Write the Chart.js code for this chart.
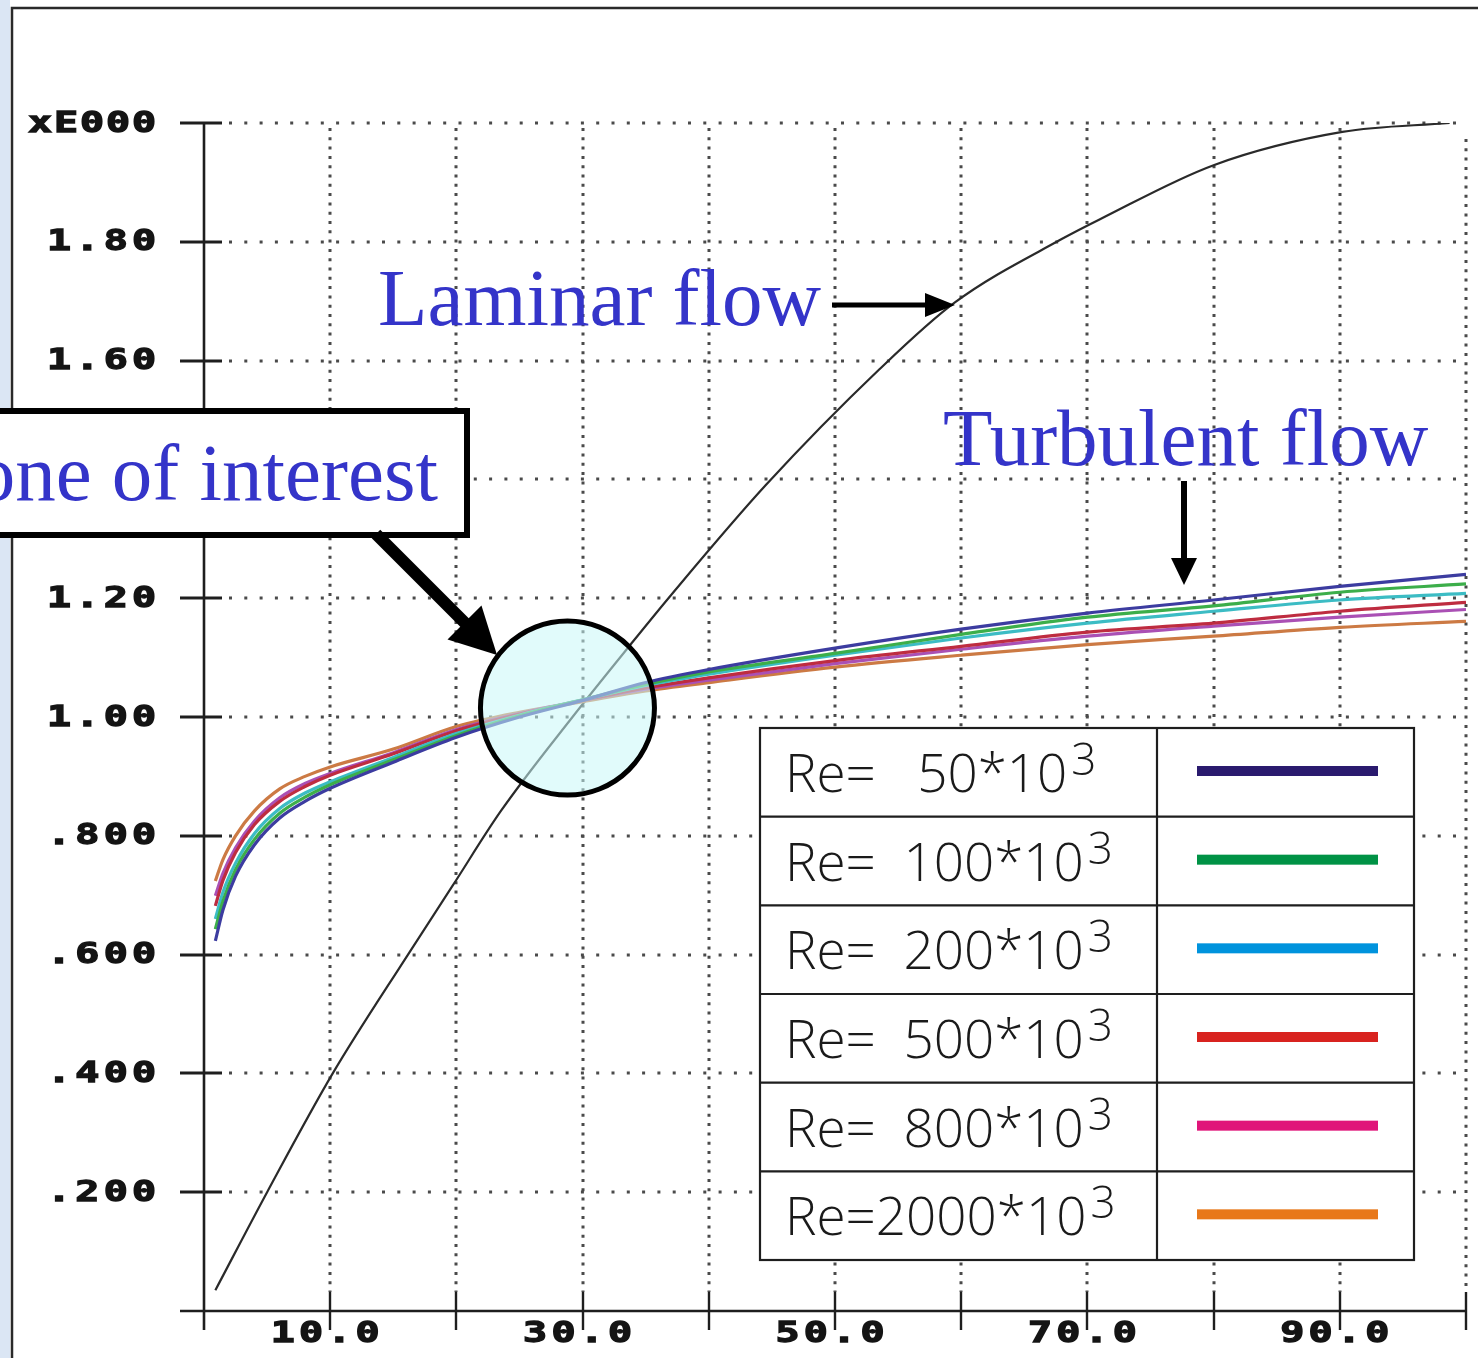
<!DOCTYPE html>
<html>
<head>
<meta charset="utf-8">
<script src="https://cdn.jsdelivr.net/npm/chart.js@4.4.1/dist/chart.umd.min.js"></script>
<style>
  html, body { margin: 0; padding: 0; background: #fff; overflow: hidden; }
  canvas { display: block; }
</style>
</head>
<body>
<canvas id="chart" width="1478" height="1358"></canvas>
<script>
// Turbulent curves: one series per Reynolds number
const turbX   = [0.9, 1.5, 2.5, 4, 6, 8, 10, 15, 20, 25, 30, 35, 40, 50, 60, 70, 80, 90, 100];
const re50    = [0.623, 0.675, 0.732, 0.785, 0.830, 0.858, 0.880, 0.924, 0.966, 1.000, 1.028, 1.058, 1.080, 1.116, 1.148, 1.175, 1.197, 1.220, 1.240];
const re100   = [0.643, 0.690, 0.743, 0.794, 0.838, 0.865, 0.886, 0.928, 0.969, 1.002, 1.029, 1.055, 1.076, 1.107, 1.139, 1.168, 1.187, 1.210, 1.224];
const re200   = [0.660, 0.705, 0.754, 0.804, 0.846, 0.872, 0.891, 0.932, 0.972, 1.003, 1.029, 1.053, 1.072, 1.104, 1.133, 1.158, 1.178, 1.197, 1.208];
const re500   = [0.682, 0.725, 0.772, 0.819, 0.858, 0.883, 0.902, 0.938, 0.977, 1.005, 1.028, 1.049, 1.066, 1.095, 1.119, 1.143, 1.158, 1.178, 1.193];
const re800   = [0.699, 0.737, 0.780, 0.825, 0.864, 0.888, 0.905, 0.940, 0.979, 1.006, 1.028, 1.047, 1.062, 1.090, 1.114, 1.136, 1.153, 1.168, 1.181];
const re2000  = [0.724, 0.760, 0.800, 0.842, 0.879, 0.900, 0.916, 0.946, 0.984, 1.008, 1.026, 1.044, 1.058, 1.084, 1.104, 1.122, 1.136, 1.151, 1.161];

// Laminar curve
const laminarX = [0.9, 5, 10.2, 16.1, 19.7, 23.5, 29.2, 33.8, 37, 44.5, 53.5, 59.5, 68, 71, 80, 90.2, 98.7];
const laminarY = [0.035, 0.2, 0.4, 0.598, 0.716, 0.841, 1.0, 1.122, 1.205, 1.39, 1.585, 1.698, 1.805, 1.838, 1.929, 1.985, 2.0];

// Legend rows
const reLabels     = ['Re=   50*10', 'Re=  100*10', 'Re=  200*10', 'Re=  500*10', 'Re=  800*10', 'Re=2000*10'];
const reExponent   = '3';
const curveColors  = ['#3c3ca0', '#3cae4a', '#3cbcc4', '#be2c40', '#aa50b4', '#cc7a44'];
const legendColors = ['#2a1a6e', '#009245', '#0093dd', '#d8231f', '#e0157a', '#e8781a'];

// Axis ticks and their labels
const yTickValues = [0.2, 0.4, 0.6, 0.8, 1.0, 1.2, 1.4, 1.6, 1.8, 2.0];
const yTickLabels = ['.200', '.400', '.600', '.800', '1.00', '1.20', '1.40', '1.60', '1.80', 'xE000'];
const xTickValues = [10, 20, 30, 40, 50, 60, 70, 80, 90, 100];
const xLabelValues = [10, 30, 50, 70, 90];
const xTickLabels  = ['10.0', '30.0', '50.0', '70.0', '90.0'];

const turbSeries = [re50, re100, re200, re500, re800, re2000];

const ANNOT_BLUE = '#3434c9';
const SERIF = "'Liberation Serif', 'Times New Roman', serif";
const MONO = "bold 29px 'DejaVu Sans Mono', 'Liberation Mono', monospace";

// Draws a string one glyph at a time on a fixed pitch (wide terminal-style labels)
function monoText(ctx, str, firstCenter, y, pitch) {
  ctx.save();
  ctx.font = MONO;
  ctx.fillStyle = '#141414';
  ctx.strokeStyle = '#141414';
  ctx.lineWidth = 1.3;
  ctx.lineJoin = 'miter';
  ctx.textAlign = 'center';
  ctx.textBaseline = 'middle';
  for (let i = 0; i < str.length; i++) {
    const cx = firstCenter + i * pitch;
    ctx.save();
    ctx.translate(cx, y);
    ctx.scale(1.38, 1);
    ctx.fillText(str[i], 0, 0);
    ctx.strokeText(str[i], 0, 0);
    ctx.restore();
  }
  ctx.restore();
}

function arrowHead(ctx, tipX, tipY, angle, len, halfW) {
  ctx.beginPath();
  ctx.moveTo(tipX, tipY);
  ctx.lineTo(tipX - len * Math.cos(angle) + halfW * Math.sin(angle), tipY - len * Math.sin(angle) - halfW * Math.cos(angle));
  ctx.lineTo(tipX - len * Math.cos(angle) - halfW * Math.sin(angle), tipY - len * Math.sin(angle) + halfW * Math.cos(angle));
  ctx.closePath();
  ctx.fill();
}

const plotFrame = {
  id: 'plotFrame',
  beforeDraw(chart) {
    const { ctx, chartArea: a, scales: { x, y } } = chart;
    ctx.save();
    ctx.fillStyle = '#ffffff';
    ctx.fillRect(0, 0, chart.width, chart.height);
    // pale strip at the far left and the outer frame
    ctx.fillStyle = '#dbe6f4';
    ctx.fillRect(0, 0, 10, chart.height);
    ctx.strokeStyle = '#2a2a2a';
    ctx.lineWidth = 2.5;
    ctx.beginPath();
    ctx.moveTo(12, chart.height);
    ctx.lineTo(12, 8);
    ctx.lineTo(chart.width, 8);
    ctx.stroke();

    // dotted grid
    ctx.strokeStyle = '#4a4a4a';
    ctx.lineWidth = 3;
    ctx.setLineDash([3, 12.3]);
    yTickValues.forEach(v => {
      const py = Math.round(y.getPixelForValue(v));
      ctx.beginPath();
      ctx.moveTo(a.left + 25, py);
      ctx.lineTo(a.right - 4, py);
      ctx.stroke();
    });
    ctx.setLineDash([3, 6.3]);
    xTickValues.forEach(v => {
      const px = Math.round(x.getPixelForValue(v));
      ctx.beginPath();
      ctx.moveTo(px, a.top + (v === 100 ? 16 : 5));
      ctx.lineTo(px, a.bottom - 19);
      ctx.stroke();
    });
    ctx.setLineDash([]);

    // axes and tick marks
    ctx.strokeStyle = '#1e1e1e';
    ctx.lineWidth = 2.6;
    ctx.beginPath();
    ctx.moveTo(a.left, a.top);
    ctx.lineTo(a.left, a.bottom + 19);
    ctx.moveTo(a.left - 24, a.bottom);
    ctx.lineTo(a.right, a.bottom);
    ctx.stroke();
    ctx.lineWidth = 3;
    ctx.beginPath();
    yTickValues.forEach(v => {
      const py = Math.round(y.getPixelForValue(v));
      ctx.moveTo(a.left - 24, py);
      ctx.lineTo(a.left + 18, py);
    });
    ctx.stroke();
    ctx.lineWidth = 2.4;
    ctx.beginPath();
    xTickValues.forEach(v => {
      const px = Math.round(x.getPixelForValue(v));
      ctx.moveTo(px, a.bottom - 19);
      ctx.lineTo(px, a.bottom + 19);
    });
    ctx.stroke();

    // tick labels
    yTickValues.forEach((v, i) => {
      const label = yTickLabels[i];
      const pitch = label.length > 4 ? 26 : 28.3;
      const lastCenter = a.left - 60;
      monoText(ctx, label, lastCenter - (label.length - 1) * pitch, y.getPixelForValue(v) + 1, pitch);
    });
    xLabelValues.forEach((v, i) => {
      const label = xTickLabels[i];
      const pitch = 28.3;
      const center = x.getPixelForValue(v) - 5;
      monoText(ctx, label, center - 1.5 * pitch, a.bottom + 23, pitch);
    });
    ctx.restore();
  },
  afterDatasetsDraw(chart) {
    const { ctx, scales: { x, y } } = chart;
    ctx.save();

    // zone-of-interest lens
    const cx = x.getPixelForValue(28.8), cy = y.getPixelForValue(1.015), r = 87;
    ctx.beginPath();
    ctx.arc(cx, cy, r, 0, Math.PI * 2);
    ctx.fillStyle = 'rgba(200, 247, 247, 0.55)';
    ctx.fill();
    ctx.lineWidth = 5;
    ctx.strokeStyle = '#000';
    ctx.stroke();

    // callout box
    ctx.fillStyle = '#fff';
    ctx.fillRect(-10, 411, 477, 124);
    ctx.lineWidth = 6;
    ctx.strokeStyle = '#000';
    ctx.strokeRect(-10, 411, 477, 124);
    ctx.font = `81px ${SERIF}`;
    ctx.fillStyle = ANNOT_BLUE;
    ctx.textAlign = 'right';
    ctx.textBaseline = 'alphabetic';
    ctx.fillText('Zone of interest', 438, 500);

    // arrow from the box to the lens
    ctx.fillStyle = '#000';
    ctx.strokeStyle = '#000';
    ctx.lineWidth = 12;
    ctx.beginPath();
    ctx.moveTo(376, 534);
    ctx.lineTo(470, 628);
    ctx.stroke();
    arrowHead(ctx, 497, 655, Math.atan2(655 - 534, 497 - 376), 46, 24);

    // laminar label and arrow
    ctx.fillStyle = ANNOT_BLUE;
    ctx.textAlign = 'left';
    ctx.fillText('Laminar flow', 378, 325);
    ctx.fillStyle = '#000';
    ctx.lineWidth = 5;
    ctx.beginPath();
    ctx.moveTo(832, 305);
    ctx.lineTo(930, 305);
    ctx.stroke();
    arrowHead(ctx, 955, 305, 0, 30, 12);

    // turbulent label and arrow
    ctx.fillStyle = ANNOT_BLUE;
    ctx.fillText('Turbulent flow', 943, 465);
    ctx.fillStyle = '#000';
    ctx.lineWidth = 6;
    ctx.beginPath();
    ctx.moveTo(1184, 481);
    ctx.lineTo(1184, 562);
    ctx.stroke();
    arrowHead(ctx, 1184, 585, Math.PI / 2, 27, 13);

    // legend table
    const L = 760, R = 1414, T = 728, B = 1260, D = 1157;
    const rowH = (B - T) / reLabels.length;
    ctx.fillStyle = '#fff';
    ctx.fillRect(L, T, R - L, B - T);
    ctx.strokeStyle = '#1e1e1e';
    ctx.lineWidth = 2.2;
    ctx.strokeRect(L, T, R - L, B - T);
    ctx.beginPath();
    ctx.moveTo(D, T);
    ctx.lineTo(D, B);
    for (let i = 1; i < reLabels.length; i++) {
      ctx.moveTo(L, T + i * rowH);
      ctx.lineTo(R, T + i * rowH);
    }
    ctx.stroke();
    reLabels.forEach((label, i) => {
      const top = T + i * rowH;
      ctx.font = "300 53px 'Open Sans', 'Lato', sans-serif";
      ctx.fillStyle = '#1a1a1a';
      ctx.textAlign = 'left';
      ctx.textBaseline = 'alphabetic';
      ctx.fillText(label, 785, top + 64);
      const w = ctx.measureText(label).width;
      ctx.font = "300 44px 'Open Sans', 'Lato', sans-serif";
      ctx.fillText(reExponent, 785 + w + 4, top + 47);
      ctx.fillStyle = legendColors[i];
      ctx.fillRect(1197, top + 38, 181, 10);
    });

    ctx.restore();
  }
};

const datasets = turbSeries.map((vals, i) => ({
  label: reLabels[i] + reExponent,
  data: turbX.map((xv, k) => ({ x: xv, y: vals[k] })),
  borderColor: curveColors[i],
  borderWidth: 3.2,
  pointRadius: 0,
  fill: false,
  cubicInterpolationMode: 'monotone'
}));
datasets.push({
  label: 'Laminar flow',
  data: laminarX.map((xv, k) => ({ x: xv, y: laminarY[k] })),
  borderColor: '#2a2a2a',
  borderWidth: 2.2,
  pointRadius: 0,
  fill: false,
  cubicInterpolationMode: 'monotone'
});

new Chart(document.getElementById('chart'), {
  type: 'line',
  data: { datasets },
  options: {
    responsive: false,
    animation: false,
    devicePixelRatio: 1,
    layout: { padding: { left: 204, top: 123, right: 12, bottom: 47 } },
    scales: {
      x: { type: 'linear', min: 0, max: 100, display: false },
      y: { type: 'linear', min: 0, max: 2.0, display: false }
    },
    plugins: {
      legend: { display: false },
      tooltip: { enabled: false }
    }
  },
  plugins: [plotFrame]
});
</script>
</body>
</html>
